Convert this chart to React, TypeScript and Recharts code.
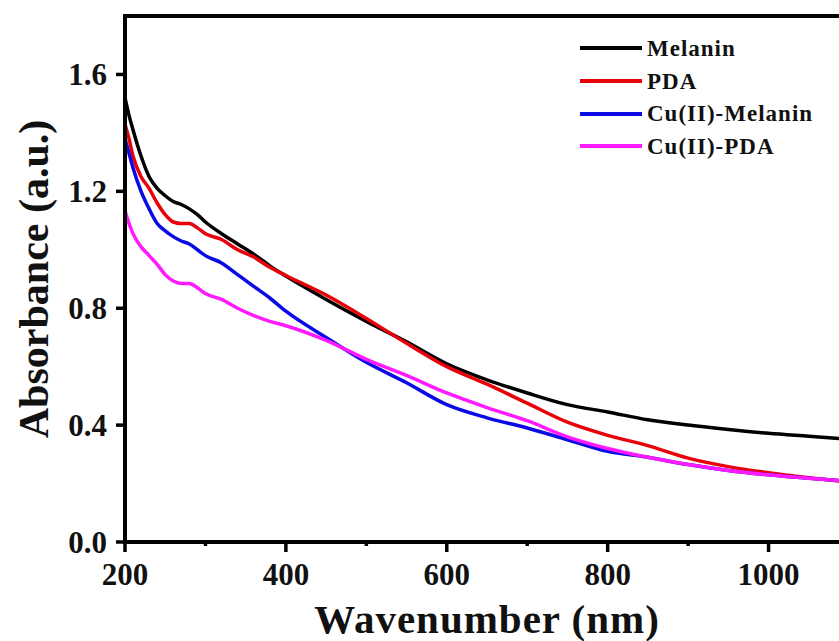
import React from "react";
import {
  LineChart,
  Line,
  XAxis,
  YAxis,
  ReferenceArea,
} from "recharts";

const WAVELENGTH = [200, 205, 210, 220, 230, 240, 250, 260, 270, 280, 290, 300, 320, 340, 360, 380, 400, 450, 500, 550, 600, 650, 700, 750, 800, 850, 900, 950, 1000, 1050, 1100];

const MELANIN = [1.52, 1.46, 1.41, 1.32, 1.25, 1.21, 1.185, 1.165, 1.155, 1.14, 1.12, 1.095, 1.055, 1.02, 0.985, 0.945, 0.91, 0.83, 0.755, 0.685, 0.61, 0.555, 0.51, 0.47, 0.445, 0.418, 0.4, 0.385, 0.372, 0.362, 0.352];
const PDA = [1.43, 1.38, 1.32, 1.25, 1.21, 1.16, 1.12, 1.095, 1.09, 1.09, 1.075, 1.055, 1.035, 1.0, 0.975, 0.94, 0.912, 0.845, 0.765, 0.68, 0.6, 0.54, 0.475, 0.41, 0.365, 0.33, 0.287, 0.258, 0.237, 0.22, 0.205];
const CU_MELANIN = [1.38, 1.33, 1.28, 1.2, 1.14, 1.09, 1.065, 1.045, 1.03, 1.02, 1.0, 0.98, 0.955, 0.915, 0.875, 0.835, 0.79, 0.7, 0.615, 0.545, 0.47, 0.425, 0.39, 0.35, 0.31, 0.29, 0.265, 0.245, 0.23, 0.218, 0.208];
const CU_PDA = [1.135, 1.09, 1.055, 1.01, 0.98, 0.95, 0.915, 0.893, 0.885, 0.885, 0.87, 0.85, 0.83, 0.8, 0.775, 0.755, 0.74, 0.69, 0.625, 0.57, 0.51, 0.46, 0.415, 0.36, 0.32, 0.29, 0.265, 0.245, 0.23, 0.218, 0.208];

const X_TICKS = [200, 300, 400, 500, 600, 700, 800, 900, 1000, 1100];
const X_LABELS = [200, 400, 600, 800, 1000];
const Y_TICKS = [0, 0.4, 0.8, 1.2, 1.6];

const SERIES = [
  { key: "melanin", name: "Melanin", color: "#000000" },
  { key: "pda", name: "PDA", color: "#e8000b" },
  { key: "cuMelanin", name: "Cu(II)-Melanin", color: "#0a0ae6" },
  { key: "cuPda", name: "Cu(II)-PDA", color: "#ff1aff" },
];

const data = WAVELENGTH.map((w, i) => ({
  w,
  melanin: MELANIN[i],
  pda: PDA[i],
  cuMelanin: CU_MELANIN[i],
  cuPda: CU_PDA[i],
}));

const FONT = '"Liberation Serif", "Times New Roman", serif';

// major ticks get a label, minor ones only a short stub
const XTick = (props: any) => {
  const { x, y, payload } = props;
  const major = X_LABELS.includes(payload.value);
  return (
    <g>
      <line x1={x} x2={x} y1={y} y2={y + (major ? 10 : 4)} stroke="#000" strokeWidth={3.5} />
      {major && (
        <text x={x} y={y + 43} textAnchor="middle" fontFamily={FONT} fontWeight="bold" fontSize={31} fill="#111">
          {payload.value}
        </text>
      )}
    </g>
  );
};

// legend kept outside recharts so it doesn't eat plot space
const LegendBox = () => (
  <div style={{ position: "absolute", left: 580, top: 32, fontFamily: FONT }}>
    {SERIES.map((s) => (
      <div key={s.key} style={{ height: 32.7, display: "flex", alignItems: "center" }}>
        <div style={{ width: 62, height: 4, background: s.color, marginRight: 5 }} />
        <span style={{ fontSize: 23, fontWeight: "bold", letterSpacing: 1, lineHeight: 1, color: "#111" }}>
          {s.name}
        </span>
      </div>
    ))}
  </div>
);

export default function App() {
  return (
    <div style={{ position: "fixed", left: 0, top: 0, width: 839, height: 641, overflow: "hidden", background: "#fff" }}>
      <LineChart width={870} height={641} data={data} margin={{ top: 16, right: 21, left: 0, bottom: 0 }}>
        <XAxis
          dataKey="w"
          type="number"
          domain={[200, 1100]}
          ticks={X_TICKS}
          interval={0}
          height={99}
          tickLine={false}
          tickSize={0}
          tickMargin={0}
          tick={<XTick />}
          axisLine={{ stroke: "#000", strokeWidth: 4 }}
          label={{
            value: "Wavenumber (nm)",
            position: "insideBottom",
            offset: 8,
            style: { fontFamily: FONT, fontWeight: "bold", fontSize: 41, letterSpacing: 1, fill: "#111" },
          }}
        />
        <YAxis
          type="number"
          domain={[0, 1.8]}
          ticks={Y_TICKS}
          width={125}
          tickSize={9}
          tickMargin={9}
          tickFormatter={(v: number) => v.toFixed(1)}
          tick={{ fontFamily: FONT, fontWeight: "bold", fontSize: 31, fill: "#111" }}
          tickLine={{ stroke: "#000", strokeWidth: 3.5 }}
          axisLine={{ stroke: "#000", strokeWidth: 4 }}
          label={{
            value: "Absorbance (a.u.)",
            angle: -90,
            position: "insideLeft",
            offset: 33,
            style: { fontFamily: FONT, fontWeight: "bold", fontSize: 42, textAnchor: "middle", fill: "#111" },
          }}
        />
        <ReferenceArea x1={200} x2={1100} y1={0} y2={1.8} fill="none" stroke="#000" strokeWidth={4} />
        {SERIES.map((s) => (
          <Line
            key={s.key}
            dataKey={s.key}
            name={s.name}
            stroke={s.color}
            strokeWidth={3.5}
            type="monotone"
            dot={false}
            isAnimationActive={false}
          />
        ))}
      </LineChart>
      <LegendBox />
    </div>
  );
}
